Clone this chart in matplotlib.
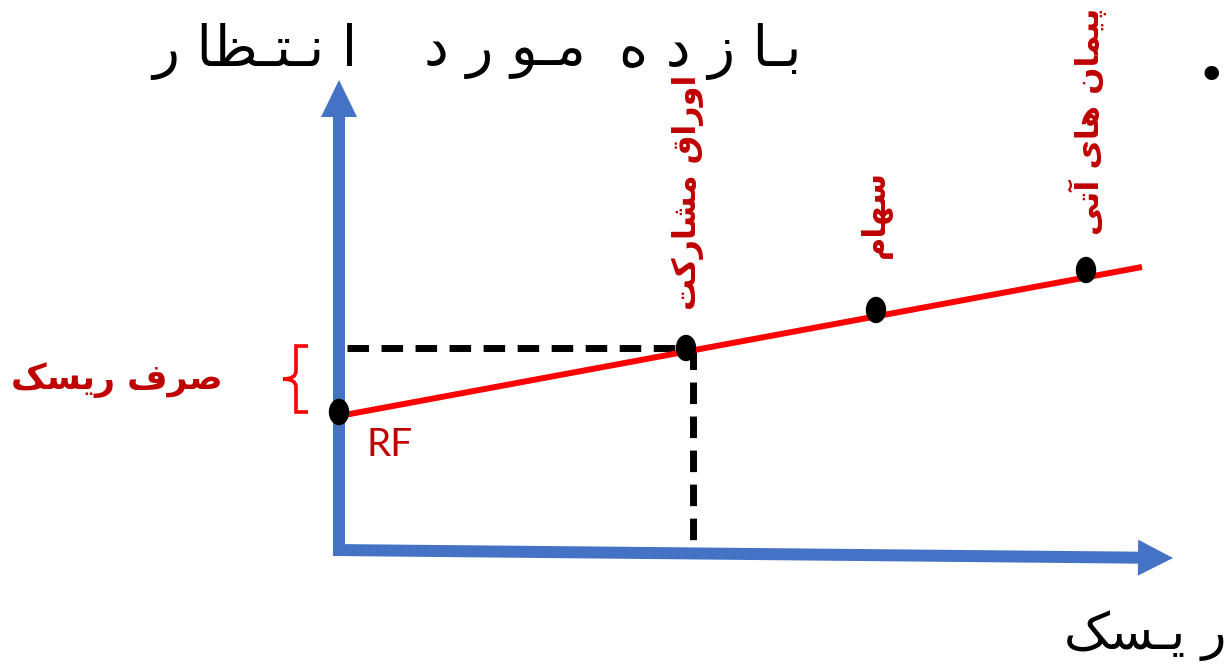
import numpy as np
import matplotlib.pyplot as plt
from matplotlib.patches import Ellipse
from matplotlib.path import Path
from matplotlib.patches import PathPatch

# points on the line: risk-free, bonds, stocks, futures
risk = [0.0, 3.47, 5.37, 7.47]
ret = [1.38, 2.02, 2.40, 2.80]
line_risk = [0.0, 8.03]
line_ret = [1.34, 2.83]

# persian labels, written as presentation forms in visual (left to right) order
title_words = ['\uFEAD \uFE8E\uFEC8\u0640\uFE98\u0640\uFEE7 \uFE8D',
               '\uFEA9 \uFEAD \uFEEE\u0640\uFEE3',
               '\uFEE9 \uFEA9 \uFEAF \uFE8E\u0640\uFE91']
title_x = [-0.84, 1.66, 3.71]
xlabel_txt = '\uFB8F\uFEB4\u0640\uFBFE \uFEAD'
premium_txt = '\uFB8F\uFEB4\uFBFE\uFEAD \uFED1\uFEAE\uFEBB'
point_labels = ['RF',
                '\uFE96\uFB90\uFEAD\uFE8E\uFEB8\uFEE3 \uFED5\uFE8D\uFEAD\uFEED\uFE8D',
                '\uFEE1\uFE8E\uFEEC\uFEB3',
                '\uFBFD\uFE97\uFE81 \uFBFC\uFE8E\uFEEB \uFEE5\uFE8E\uFEE4\uFBFF\uFB58']

blue = '#4472C4'
dark_red = '#C00000'

fig = plt.figure(figsize=(12.32, 6.66), dpi=100)
ax = fig.add_axes([0, 0, 1, 1])
ax.set_xlim(-3.39, 8.93)
ax.set_ylim(-1.16, 5.50)
ax.axis('off')

# axes arrows
ax.arrow(0, -0.06, 0, 4.76, width=0.12, head_width=0.36, head_length=0.37,
         length_includes_head=True, color=blue, lw=0)
ax.arrow(-0.06, 0.0, 8.40, -0.08, width=0.12, head_width=0.36, head_length=0.35,
         length_includes_head=True, color=blue, lw=0)

# dashed guides to the bond point
ax.plot([0.08, risk[1]], [ret[1], ret[1]], color='black', lw=5,
        dashes=(3.1, 1.8), dash_capstyle='butt', zorder=3)
ax.plot([risk[1] + 0.07, risk[1] + 0.07], [ret[1], 0.0], color='black', lw=5,
        dashes=(3.1, 1.8), dash_capstyle='butt', zorder=3)

# line
ax.plot(line_risk, line_ret, color='#FF0000', lw=4.3, solid_capstyle='butt', zorder=4)

for x, y in zip(risk, ret):
    ax.add_patch(Ellipse((x, y), 0.19, 0.25, color='black', zorder=5))

# brace for the premium
top, bot = ret[1] + 0.02, ret[0]
mid = (top + bot) / 2
bx = -0.43
verts = [(bx + 0.12, top), (bx, top), (bx, top),
         (bx, mid + 0.08), (bx, mid), (bx - 0.13, mid),
         (bx, mid), (bx, mid - 0.08), (bx, bot),
         (bx, bot), (bx + 0.12, bot)]
codes = [Path.MOVETO, Path.LINETO, Path.LINETO,
         Path.LINETO, Path.CURVE3, Path.CURVE3,
         Path.CURVE3, Path.CURVE3, Path.LINETO,
         Path.LINETO, Path.LINETO]
ax.add_patch(PathPatch(Path(verts, codes), fill=False, edgecolor='#FF0000', lw=2.6))

# texts
for x, s in zip(title_x, title_words):
    ax.text(x, 4.98, s, fontsize=40, family='DejaVu Sans',
            ha='center', va='center', color='black')
ax.text(8.06, -0.86, xlabel_txt, fontsize=37, family='DejaVu Sans',
        ha='center', va='center', color='black')
ax.text(-2.22, 1.70, premium_txt, fontsize=25, family='DejaVu Sans',
        fontweight='bold', ha='center', va='center', color=dark_red)
ax.text(0.51, 1.05, point_labels[0], fontsize=28, family='Lato',
        ha='center', va='center', color=dark_red)
label_pos = [(3.49, 3.58), (5.37, 3.36), (7.49, 4.29)]
for (x, y), s in zip(label_pos, point_labels[1:]):
    ax.text(x, y, s, fontsize=23, family='DejaVu Sans', fontweight='bold',
            rotation=90, ha='center', va='center', color=dark_red)
ax.text(8.72, 4.73, '\u2022', fontsize=36, family='DejaVu Sans',
        ha='center', va='center', color='black')

fig.savefig('out.png', dpi=100)
